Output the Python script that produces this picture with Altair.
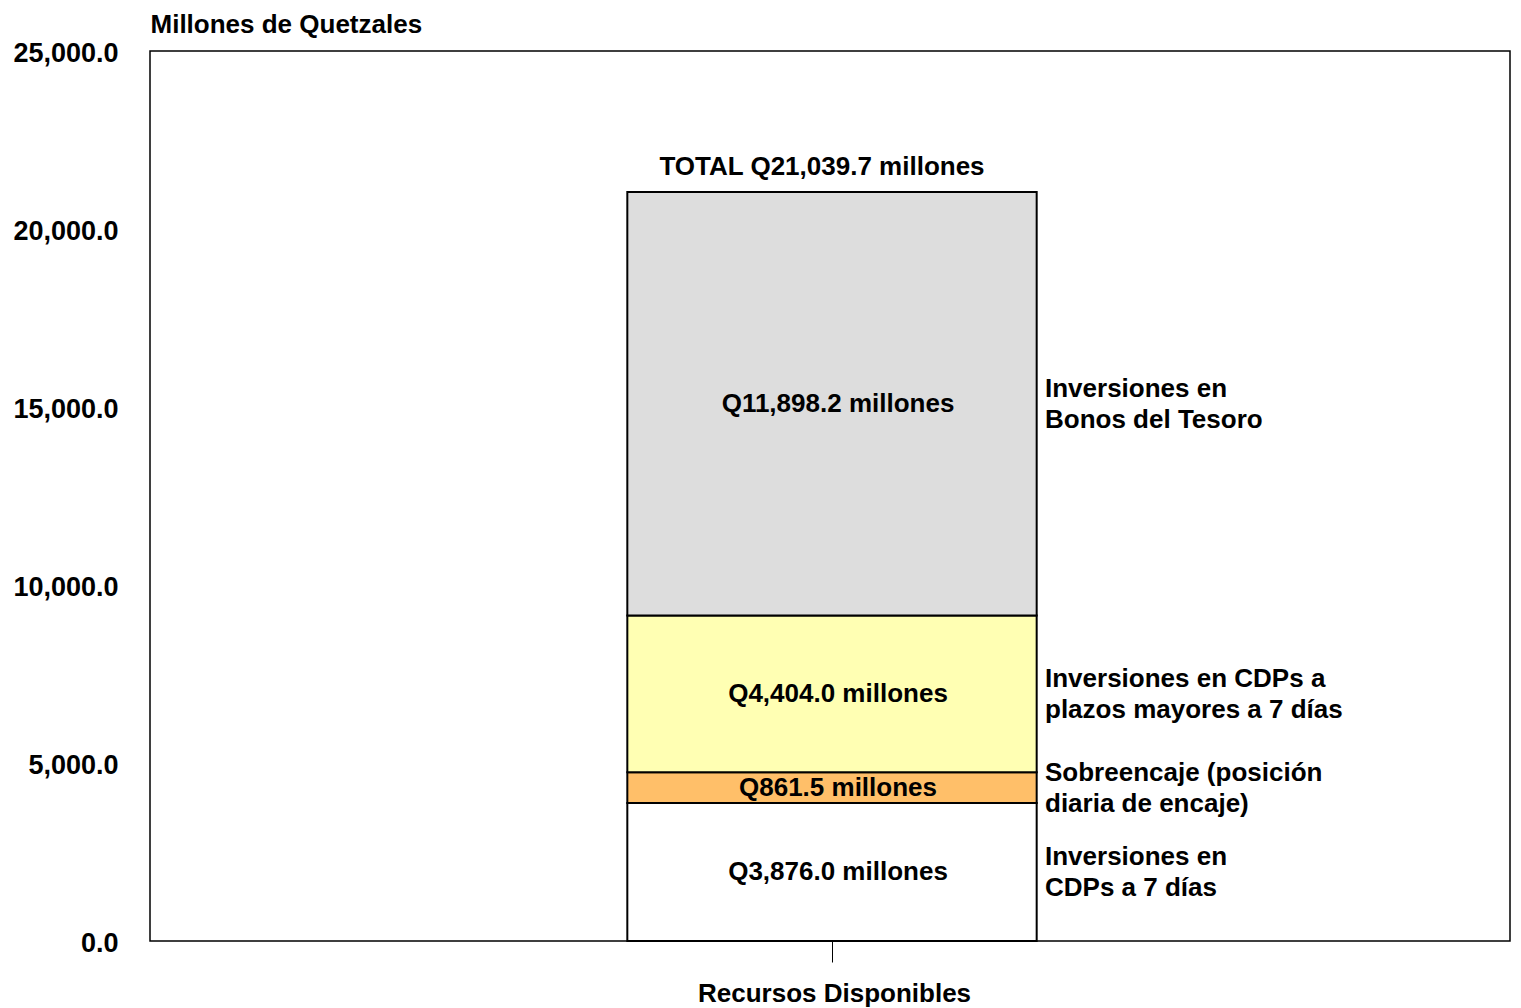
import altair as alt
import pandas as pd

# ---- data ----
group = "Recursos Disponibles"
series = [
    "Inversiones en CDPs a 7 días",
    "Sobreencaje (posición diaria de encaje)",
    "Inversiones en CDPs a plazos mayores a 7 días",
    "Inversiones en Bonos del Tesoro",
]
values = [3876.0, 861.5, 4404.0, 11898.2]
inner_labels = [
    "Q3,876.0 millones",
    "Q861.5 millones",
    "Q4,404.0 millones",
    "Q11,898.2 millones",
]
side_labels = [
    ["Inversiones en", "CDPs a 7 días"],
    ["Sobreencaje (posición", "diaria de encaje)"],
    ["Inversiones en CDPs a", "plazos mayores a 7 días"],
    ["Inversiones en", "Bonos del Tesoro"],
]
colors = ["#FFFFFF", "#FFBF69", "#FFFFB3", "#DDDDDD"]
total_label = "TOTAL Q21,039.7 millones"
y_title = "Millones de Quetzales"
y_ticks = [0, 5000, 10000, 15000, 20000, 25000]

# ---- table ----
rows = []
acc = 0.0
for i, (s, v) in enumerate(zip(series, values)):
    rows.append({
        "grupo": group, "serie": s, "orden": i,
        "y0": acc, "y1": acc + v, "ymid": acc + v / 2,
        "inner": inner_labels[i], "side": side_labels[i],
    })
    acc += v
df = pd.DataFrame(rows)
total_df = pd.DataFrame([{"grupo": group, "total": acc, "label": total_label}])

FONT = "Liberation Sans"

x_enc = alt.X(
    "grupo:N",
    scale=alt.Scale(paddingInner=0, paddingOuter=0),
    axis=alt.Axis(
        title=None, labelAngle=0, labelFont=FONT, labelFontSize=26,
        labelFontWeight="bold", labelColor="black", labelPadding=18,
        labelLimit=0, labelOffset=2, ticks=True, tickSize=21,
        tickColor="black", tickWidth=1, tickOffset=2,
        domain=False, grid=False,
    ),
)
y_scale = alt.Scale(domain=[0, 25000], nice=False)

bars = alt.Chart(df).mark_bar(
    width={"band": 0.301}, stroke="black", strokeWidth=2, xOffset=2
).encode(
    x=x_enc,
    y=alt.Y(
        "y0:Q", scale=y_scale,
        axis=alt.Axis(
            title=y_title, titleAngle=0, titleX=0, titleY=-19,
            titleAlign="left", titleBaseline="alphabetic", titleFont=FONT,
            titleFontSize=26, titleFontWeight="bold", titleColor="black",
            values=y_ticks, format=",.1f", labelFont=FONT,
            labelFontSize=27, labelFontWeight="bold", labelColor="black",
            labelPadding=32, labelOffset=2, ticks=False, domain=False,
            grid=False,
        ),
    ),
    y2="y1:Q",
    color=alt.Color("serie:N", scale=alt.Scale(domain=series, range=colors), legend=None),
)

inner = alt.Chart(df).mark_text(
    font=FONT, fontSize=26, fontWeight="bold", color="black",
    align="center", baseline="middle", dx=8,
).encode(
    x="grupo:N",
    y=alt.Y("ymid:Q", scale=y_scale),
    text="inner:N",
)

side = alt.Chart(df).mark_text(
    font=FONT, fontSize=26, fontWeight="bold", color="black",
    align="left", baseline="middle", dx=215, dy=-15, lineHeight=31,
).encode(
    x="grupo:N",
    y=alt.Y("ymid:Q", scale=y_scale),
    text="side",
)

total = alt.Chart(total_df).mark_text(
    font=FONT, fontSize=26, fontWeight="bold", color="black",
    align="center", baseline="bottom", dx=-8, dy=-12,
).encode(
    x="grupo:N",
    y=alt.Y("total:Q", scale=y_scale),
    text="label:N",
)

chart = alt.layer(bars, inner, side, total).properties(
    width=1360,
    height=890,
    padding={"left": 142, "top": 43, "right": 3, "bottom": 66},
    autosize=alt.AutoSizeParams(type="none"),
    background="white",
).configure_view(
    stroke="black", strokeWidth=1.5
)

chart.save("out.html", embed_options={"renderer": "svg", "actions": False})
